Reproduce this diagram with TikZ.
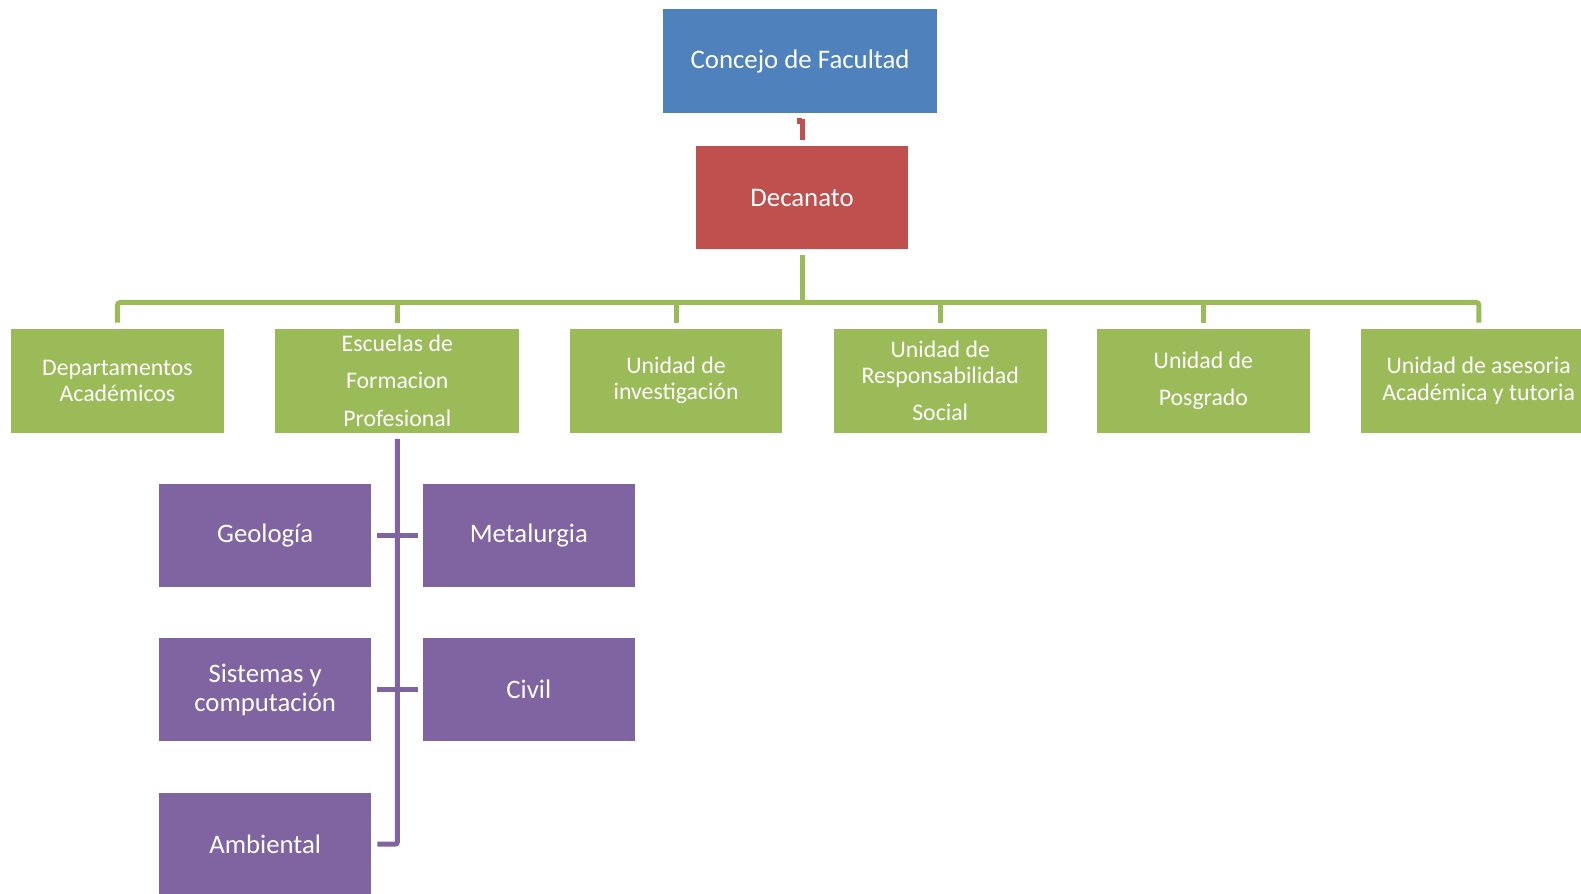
\documentclass[tikz,border=0pt]{standalone}
\usepackage{fontspec}
\setmainfont{Carlito}
\usetikzlibrary{calc}
\definecolor{oblue}{HTML}{4F81BD}
\definecolor{ored}{HTML}{C0504D}
\definecolor{ogreen}{HTML}{9BBB59}
\definecolor{opurple}{HTML}{8064A2}
\begin{document}
\begin{tikzpicture}[x=1pt,y=-1pt,scale=1.0083,transform shape,
  box/.style={rectangle, inner sep=0pt, text=white, align=center,
    minimum height=103pt, minimum width=211pt},
  topbox/.style={box, font=\fontsize{26.6}{30}\selectfont},
  gbox/.style={box, fill=ogreen, font=\fontsize{23.6}{26}\selectfont},
  pbox/.style={box, fill=opurple, minimum height=102pt, minimum width=210pt,
    font=\fontsize{26.5}{28.5}\selectfont},
  rline/.style={draw=ored, line width=5pt},
  gline/.style={draw=ogreen, line width=5pt, rounded corners=3pt},
  pline/.style={draw=opurple, line width=5pt, rounded corners=2pt}]
\useasboundingbox (0,0) rectangle (1568,886.6);
\clip (0,0) rectangle (1568,886.6);
% top
\node[topbox, fill=oblue, minimum width=271pt] (con) at (793.5,60.5) {Concejo de Facultad};
\node[topbox, fill=ored, minimum height=102pt] (dec) at (795.5,196) {Decanato};
% green row
\node[gbox] (dep) at (116.5,377.5) {Departamentos\\Académicos};
\node[gbox, minimum width=242pt] (esc) at (394,377.5) {Escuelas de\\[11pt]Formacion\\[11pt]Profesional};
\node[gbox] (inv) at (670.5,377.5) {Unidad de\\investigación};
\node[gbox] (rsp) at (932.5,377.5) {Unidad de\\Responsabilidad\\[11pt]Social};
\node[gbox] (pos) at (1193.5,377.5) {Unidad de\\[11pt]Posgrado};
\node[gbox, minimum width=233pt] (ase) at (1466.5,377.5) {Unidad de asesoria\\Académica y tutoria};
% purple
\node[pbox] (geo) at (263,531) {Geología};
\node[pbox] (met) at (524.5,531) {Metalurgia};
\node[pbox] (sis) at (263,684) {Sistemas y\\computación};
\node[pbox] (civ) at (524.5,684) {Civil};
\node[pbox] (amb) at (263,837) {Ambiental};
\fill[opurple] ($(amb.south west)+(0,-1)$) rectangle ($(amb.south east)+(0,10)$);
% connectors
\draw[rline] ($(con.south)+(-1,5)$) -- ++(0,3) -| ($(dec.north)+(0,-6)$);
\coordinate (bus) at (0,300);
\draw[gline] ($(dec.south)+(0,6)$) -- (dec.south |- bus);
\draw[gline] ($(dep.north)+(0,-6)$) |- ($(ase.north)+(0,-26)$) -- ($(ase.north)+(0,-6)$);
\foreach \n in {esc,inv,rsp,pos}
  \draw[gline] ($(\n.north)+(0,-6)$) -- (\n.north |- bus);
\draw[pline] ($(esc.south)+(0,6)$) |- ($(amb.east)+(6,0)$);
\draw[pline] ($(geo.east)+(6,0)$) -- ($(met.west)+(-5,0)$);
\draw[pline] ($(sis.east)+(6,0)$) -- ($(civ.west)+(-5,0)$);
\end{tikzpicture}
\end{document}
